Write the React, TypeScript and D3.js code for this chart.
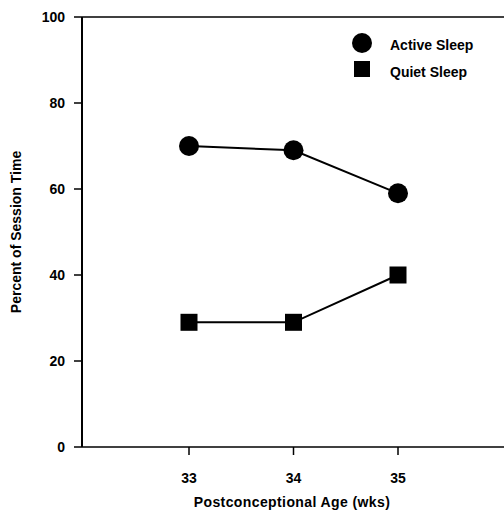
import React from "react";
import * as d3 from "d3";

const ages = [33, 34, 35];
const activeSleep = [70, 69, 59];
const quietSleep = [29, 29, 40];
const yTicks = [0, 20, 40, 60, 80, 100];
const seriesNames = ["Active Sleep", "Quiet Sleep"];

export default function App() {
  const W = 504, H = 513;
  const x = d3.scaleLinear().domain([33, 35]).range([189, 398]);
  const y = d3.scaleLinear().domain([0, 100]).range([447, 17]);
  const line = d3.line<number>().x((_, i) => x(ages[i])).y((d) => y(d));
  const font = "'Liberation Sans', Arial, sans-serif";
  return (
    <svg width={W} height={H} style={{ position: "absolute", left: 0, top: 0, background: "#fff" }} fontFamily={font}>
      <rect width={W} height={H} fill="#fff" />
      {/* axes */}
      <line x1={82} x2={82} y1={y(100)} y2={y(0)} stroke="#000" strokeWidth={2} />
      <line x1={82} x2={504} y1={y(0)} y2={y(0)} stroke="#000" strokeWidth={1.5} />
      <line x1={82} x2={504} y1={y(100)} y2={y(100)} stroke="#000" strokeWidth={1.5} />
      {yTicks.map((t) => (
        <g key={t}>
          <line x1={74} x2={82} y1={y(t)} y2={y(t)} stroke="#000" strokeWidth={1.5} />
          <text x={65} y={y(t)} dy="0.35em" textAnchor="end" fontSize={14} fontWeight="bold">{t}</text>
        </g>
      ))}
      {ages.map((a) => (
        <g key={a}>
          <line x1={x(a)} x2={x(a)} y1={y(0)} y2={y(0) + 8} stroke="#000" strokeWidth={1.5} />
          <text x={x(a)} y={478} dy="0.35em" textAnchor="middle" fontSize={14} fontWeight="bold">{a}</text>
        </g>
      ))}
      <text x={292} y={502} dy="0.35em" textAnchor="middle" fontSize={14} fontWeight="bold" letterSpacing={0.4}>Postconceptional Age (wks)</text>
      <text transform={`translate(16,232) rotate(-90)`} dy="0.35em" textAnchor="middle" fontSize={14} fontWeight="bold">Percent of Session Time</text>
      {/* series */}
      <path d={line(activeSleep) || ""} fill="none" stroke="#000" strokeWidth={2} />
      <path d={line(quietSleep) || ""} fill="none" stroke="#000" strokeWidth={2} />
      {activeSleep.map((v, i) => (
        <circle key={i} cx={x(ages[i])} cy={y(v)} r={10} fill="#000" />
      ))}
      {quietSleep.map((v, i) => (
        <rect key={i} x={x(ages[i]) - 8.5} y={y(v) - 8.5} width={17} height={17} fill="#000" />
      ))}
      {/* legend */}
      <circle cx={362} cy={43} r={10} fill="#000" />
      <text x={390} y={45} dy="0.35em" fontSize={14} fontWeight="bold">{seriesNames[0]}</text>
      <rect x={354} y={61} width={16} height={16} fill="#000" />
      <text x={390} y={72} dy="0.35em" fontSize={14} fontWeight="bold">{seriesNames[1]}</text>
    </svg>
  );
}
